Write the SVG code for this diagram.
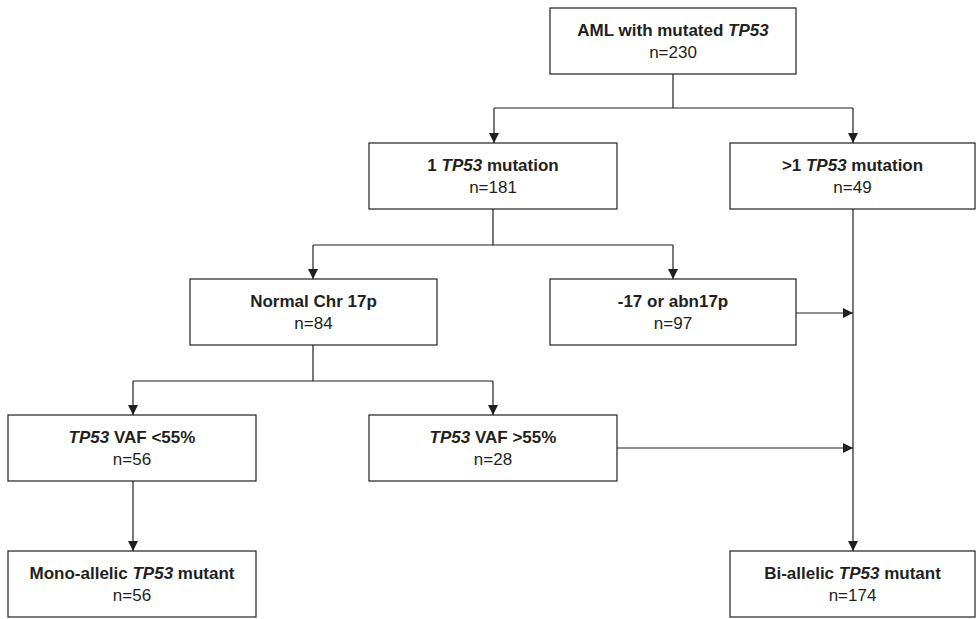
<svg xmlns="http://www.w3.org/2000/svg" width="976" height="619" viewBox="0 0 976 619">
<style>
.box{fill:#fff;stroke:#231f20;stroke-width:1.2}
.t{font-family:"Liberation Sans",Arial,sans-serif;font-size:17px;fill:#231f20;text-anchor:middle}
.b{font-weight:bold}
.i{font-style:italic}
.c{fill:none;stroke:#231f20;stroke-width:1.2}
</style>
<defs>
<marker id="ah" markerUnits="userSpaceOnUse" markerWidth="10" markerHeight="10" refX="10" refY="5" orient="auto">
<path d="M0,0 L10,5 L0,10 z" fill="#231f20"/>
</marker>
</defs>
<rect width="976" height="619" fill="#fff"/>
<g id="connectors">
<path class="c" d="M673,74 V108 M494,108 H853"/>
<path class="c" d="M494,108 V143" marker-end="url(#ah)"/>
<path class="c" d="M853,108 V143" marker-end="url(#ah)"/>
<path class="c" d="M493,209 V245 M313,245 H673"/>
<path class="c" d="M313,245 V279" marker-end="url(#ah)"/>
<path class="c" d="M673,245 V279" marker-end="url(#ah)"/>
<path class="c" d="M313,345 V381 M133,381 H493"/>
<path class="c" d="M133,381 V415" marker-end="url(#ah)"/>
<path class="c" d="M493,381 V415" marker-end="url(#ah)"/>
<path class="c" d="M133,481 V551" marker-end="url(#ah)"/>
<path class="c" d="M853,209 V551" marker-end="url(#ah)"/>
<path class="c" d="M796,313 H853" marker-end="url(#ah)"/>
<path class="c" d="M617,448 H853" marker-end="url(#ah)"/>
</g>
<g id="n-aml">
<rect class="box" x="550" y="8" width="246" height="66"/>
<text class="t b" x="673" y="36">AML with mutated <tspan class="i">TP53</tspan></text>
<text class="t" x="673" y="58">n=230</text>
</g>
<g id="n-one">
<rect class="box" x="369" y="143" width="248" height="66"/>
<text class="t b" x="493" y="171">1 <tspan class="i">TP53</tspan> mutation</text>
<text class="t" x="493" y="193">n=181</text>
</g>
<g id="n-gt1">
<rect class="box" x="730" y="143" width="245" height="66"/>
<text class="t b" x="852.5" y="171">&gt;1 <tspan class="i">TP53</tspan> mutation</text>
<text class="t" x="852.5" y="193">n=49</text>
</g>
<g id="n-normal">
<rect class="box" x="190" y="279" width="247" height="66"/>
<text class="t b" x="313.5" y="307">Normal Chr 17p</text>
<text class="t" x="313.5" y="329">n=84</text>
</g>
<g id="n-del17">
<rect class="box" x="550" y="279" width="246" height="66"/>
<text class="t b" x="673" y="307">-17 or abn17p</text>
<text class="t" x="673" y="329">n=97</text>
</g>
<g id="n-vaflo">
<rect class="box" x="8" y="415" width="248" height="66"/>
<text class="t b" x="132" y="443"><tspan class="i">TP53</tspan> VAF &lt;55%</text>
<text class="t" x="132" y="465">n=56</text>
</g>
<g id="n-vafhi">
<rect class="box" x="369" y="415" width="248" height="66"/>
<text class="t b" x="493" y="443"><tspan class="i">TP53</tspan> VAF &gt;55%</text>
<text class="t" x="493" y="465">n=28</text>
</g>
<g id="n-mono">
<rect class="box" x="8" y="551" width="248" height="66"/>
<text class="t b" x="132" y="579">Mono-allelic <tspan class="i">TP53</tspan> mutant</text>
<text class="t" x="132" y="601">n=56</text>
</g>
<g id="n-bi">
<rect class="box" x="730" y="551" width="245" height="66"/>
<text class="t b" x="852.5" y="579">Bi-allelic <tspan class="i">TP53</tspan> mutant</text>
<text class="t" x="852.5" y="601">n=174</text>
</g>
</svg>
